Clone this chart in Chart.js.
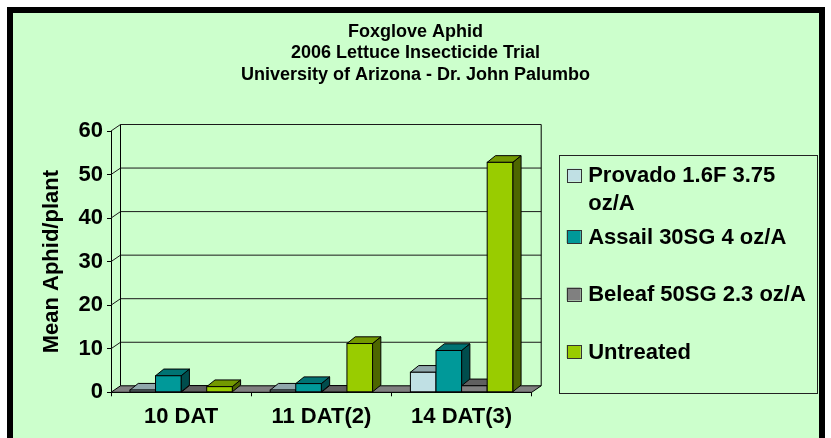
<!DOCTYPE html>
<html>
<head>
<meta charset="utf-8">
<script src="https://cdn.jsdelivr.net/npm/chart.js@4.4.1/dist/chart.umd.min.js"></script>
<style>
  html, body { margin: 0; padding: 0; background: #ffffff; }
  #wrap { width: 831px; height: 438px; }
</style>
</head>
<body>
<div id="wrap"><canvas id="c" width="831" height="438"></canvas></div>
<script>
// ---- data ----
const titleLines = ['Foxglove Aphid', '2006 Lettuce Insecticide Trial', 'University of Arizona - Dr. John Palumbo'];
const categories = ['10 DAT', '11 DAT(2)', '14 DAT(3)'];
const seriesNames = ['Provado 1.6F 3.75 oz/A', 'Assail 30SG 4 oz/A', 'Beleaf 50SG 2.3 oz/A', 'Untreated'];
const provado = [0.5, 0.5, 4.6];
const assail = [3.8, 2.0, 9.6];
const beleaf = [0, 0, 1.5];
const untreated = [1.3, 11.2, 52.8];
const yAxisTitle = 'Mean Aphid/plant';
const yMin = 0, yMax = 60, yStep = 10;

// ---- styles ----
const FONT = "'Liberation Sans', Arial, Helvetica, sans-serif";
const frontColors = ['#c0e0e4', '#009999', '#808080', '#99cc00'];
const topColors   = ['#90a8ac', '#007373', '#606060', '#739900'];
const sideColors  = ['#607074', '#004d4d', '#404040', '#4d6600'];
const BG = '#ccffcc';
const WALL_DX = 9.5, WALL_DY = -6.5;
const BAR_DX = 8.3, BAR_DY = -6.7;

Chart.defaults.font.family = FONT;
Chart.defaults.color = '#000';

const bgPlugin = {
  id: 'bgFrame',
  beforeDraw(chart) {
    const ctx = chart.ctx;
    ctx.save();
    ctx.fillStyle = '#ffffff';
    ctx.fillRect(0, 0, chart.width, chart.height);
    ctx.fillStyle = '#000000';
    ctx.fillRect(7, 7, 818, chart.height);
    ctx.fillStyle = BG;
    ctx.fillRect(13, 13, 806, chart.height);
    ctx.restore();
  }
};

function wrapText(ctx, text, maxW) {
  const words = text.split(' ');
  const lines = [];
  let cur = '';
  for (const w of words) {
    const t = cur ? cur + ' ' + w : w;
    if (cur && ctx.measureText(t).width > maxW) { lines.push(cur); cur = w; }
    else cur = t;
  }
  if (cur) lines.push(cur);
  return lines;
}

const sideLegend = {
  id: 'sideLegend',
  beforeInit(chart) {
    const box = {
      position: 'right', weight: 100, fullSize: false, options: {},
      left: 0, top: 0, right: 0, bottom: 0, width: 0, height: 0,
      isHorizontal() { return false; },
      update(maxW, maxH) { this.width = 299.3; this.height = maxH; },
      draw() {
        const ctx = chart.ctx;
        const lx = this.left + 27.5, rx = this.right - 14.3;
        const ty = this.top + 24, by = this.bottom + 1;
        ctx.save();
        ctx.strokeStyle = '#222';
        ctx.lineWidth = 1;
        ctx.strokeRect(Math.round(lx) + 0.5, Math.round(ty) + 0.5, Math.round(rx - lx), Math.round(by - ty));
        ctx.font = 'bold 22px ' + FONT;
        ctx.textBaseline = 'middle';
        ctx.textAlign = 'left';
        const textX = lx + 29;
        const maxW = rx - textX - 3;
        let y = ty + 20;
        chart.data.datasets.forEach((ds, i) => {
          const lines = wrapText(ctx, ds.label, maxW);
          ctx.fillStyle = ds.backgroundColor;
          ctx.fillRect(lx + 7.5, y - 6.5, 14, 13);
          ctx.strokeStyle = '#333';
          ctx.strokeRect(Math.round(lx + 7.5) + 0.5, Math.round(y - 6.5) + 0.5, 14, 13);
          ctx.fillStyle = '#000';
          lines.forEach((ln, k) => ctx.fillText(ln, textX, y + 1 + k * 28));
          y += 57.5 + (lines.length - 1) * 4;
        });
        ctx.restore();
      }
    };
    Chart.layouts.addBox(chart, box);
  }
};

const threeD = {
  id: 'threeD',
  beforeDatasetsDraw(chart) {
    const ctx = chart.ctx;
    const {left, right, top, bottom} = chart.chartArea;
    const y = chart.scales.y;
    ctx.save();
    ctx.lineWidth = 1;
    ctx.strokeStyle = '#000';
    // floor
    ctx.beginPath();
    ctx.moveTo(left, bottom);
    ctx.lineTo(right, bottom);
    ctx.lineTo(right + WALL_DX, bottom + WALL_DY);
    ctx.lineTo(left + WALL_DX, bottom + WALL_DY);
    ctx.closePath();
    ctx.fillStyle = '#808080';
    ctx.fill();
    ctx.stroke();
    // gridlines on side and back walls
    ctx.strokeStyle = '#1a1a1a';
    for (let v = yMin + yStep; v <= yMax; v += yStep) {
      const yy = y.getPixelForValue(v);
      ctx.beginPath();
      ctx.moveTo(left, yy);
      ctx.lineTo(left + WALL_DX, yy + WALL_DY);
      ctx.lineTo(right + WALL_DX, yy + WALL_DY);
      ctx.stroke();
    }
    // back wall edges
    ctx.strokeStyle = '#000';
    ctx.beginPath();
    ctx.moveTo(left + WALL_DX, bottom + WALL_DY);
    ctx.lineTo(left + WALL_DX, top + WALL_DY);
    ctx.moveTo(right + WALL_DX, top + WALL_DY);
    ctx.lineTo(right + WALL_DX, bottom + WALL_DY);
    ctx.stroke();
    // 3D bars, category by category, left to right
    const n = chart.data.labels.length;
    for (let j = 0; j < n; j++) {
      chart.data.datasets.forEach((ds, i) => {
        const el = chart.getDatasetMeta(i).data[j];
        if (!el) return;
        const w = el.width, l = el.x - w / 2, r = el.x + w / 2;
        const t = Math.min(el.y, el.base), b = Math.max(el.y, el.base);
        // side
        ctx.beginPath();
        ctx.moveTo(r, t);
        ctx.lineTo(r + BAR_DX, t + BAR_DY);
        ctx.lineTo(r + BAR_DX, b + BAR_DY);
        ctx.lineTo(r, b);
        ctx.closePath();
        ctx.fillStyle = sideColors[i];
        ctx.fill(); ctx.stroke();
        // top
        ctx.beginPath();
        ctx.moveTo(l, t);
        ctx.lineTo(l + BAR_DX, t + BAR_DY);
        ctx.lineTo(r + BAR_DX, t + BAR_DY);
        ctx.lineTo(r, t);
        ctx.closePath();
        ctx.fillStyle = topColors[i];
        ctx.fill(); ctx.stroke();
        // front
        ctx.fillStyle = frontColors[i];
        ctx.fillRect(l, t, w, b - t);
        ctx.strokeRect(l, t, w, b - t);
      });
    }
    ctx.restore();
    return false;
  }
};

const seriesData = [provado, assail, beleaf, untreated];

new Chart(document.getElementById('c'), {
  type: 'bar',
  data: {
    labels: categories,
    datasets: seriesNames.map((name, i) => ({
      label: name,
      data: seriesData[i],
      backgroundColor: frontColors[i],
      borderColor: '#000',
      borderWidth: 1
    }))
  },
  options: {
    responsive: false,
    animation: false,
    devicePixelRatio: 1,
    layout: { padding: 0 },
    datasets: { bar: { categoryPercentage: 0.73, barPercentage: 1.0 } },
    plugins: {
      legend: { display: false },
      tooltip: { enabled: false },
      title: {
        display: true,
        text: titleLines,
        color: '#000',
        font: { size: 18, weight: 'bold', lineHeight: 21.5 / 18 },
        padding: { top: 21.25, bottom: 45.25 }
      }
    },
    scales: {
      x: {
        offset: true,
        grid: { display: true, drawOnChartArea: false, drawTicks: true, tickLength: 4, color: '#000', offset: true },
        border: { display: true, color: '#000' },
        ticks: { color: '#000', font: { size: 22, weight: 'bold' }, padding: 7.6, maxRotation: 0, autoSkip: false },
        afterFit(s) { s.height = 45.7; }
      },
      y: {
        min: yMin, max: yMax,
        grid: { display: true, drawOnChartArea: false, drawTicks: true, tickLength: 4, color: '#000' },
        border: { display: true, color: '#000' },
        ticks: { stepSize: yStep, color: '#000', font: { size: 22, weight: 'bold' }, padding: 4 },
        title: {
          display: true, text: yAxisTitle, color: '#000',
          font: { size: 22, weight: 'bold' },
          padding: { top: 38.8, bottom: 0 }
        },
        afterFit(s) { s.width = 111; }
      }
    }
  },
  plugins: [bgPlugin, sideLegend, threeD]
});
</script>
</body>
</html>
